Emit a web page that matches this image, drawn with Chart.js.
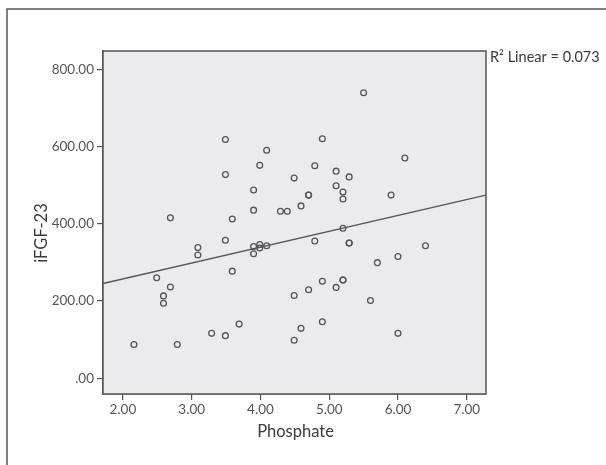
<!DOCTYPE html>
<html>
<head>
<meta charset="utf-8">
<script src="https://cdn.jsdelivr.net/npm/chart.js@4/dist/chart.umd.min.js"></script>
<style>
  body { margin: 0; background: #fff; }
  #wrap { width: 606px; height: 465px; }
</style>
</head>
<body>
<div id="wrap"><canvas id="scatterChart" width="606" height="465"></canvas></div>
<script>
// values
const phosphate = [2.16, 2.49, 2.59, 2.59, 2.69, 2.69, 2.79, 3.09, 3.09, 3.29,
  3.49, 3.49, 3.49, 3.49, 3.59, 3.59, 3.69, 3.90, 3.90, 3.90,
  3.90, 3.99, 3.99, 3.99, 4.09, 4.09, 4.29, 4.39, 4.49, 4.49,
  4.49, 4.59, 4.59, 4.70, 4.70, 4.70, 4.79, 4.79, 4.90, 4.90,
  4.90, 5.10, 5.10, 5.10, 5.20, 5.20, 5.20, 5.20, 5.20, 5.29,
  5.29, 5.29, 5.50, 5.60, 5.70, 5.90, 6.00, 6.00, 6.10, 6.40];
const fgf23 = [87, 260, 213, 194, 236, 415, 87, 338, 319, 116,
  110, 357, 527, 618, 412, 277, 140, 487, 435, 341,
  322, 551, 346, 337, 590, 343, 432, 432, 518, 214,
  98, 446, 129, 474, 474, 229, 550, 355, 620, 251,
  146, 536, 498, 235, 482, 464, 388, 254, 254, 521,
  350, 350, 739, 201, 299, 474, 315, 116, 570, 343];

const xTicks = [2, 3, 4, 5, 6, 7];
const yTicks = [0, 200, 400, 600, 800];
const xRange = [1.71, 7.28];
const yRange = [-41, 847];

// fit line as shown in the picture
const fitIntercept = 174.7;
const fitSlope = 41.1;
const r2Label = 'R\u00B2 Linear = 0.073';

const points = phosphate.map((x, i) => ({ x: x, y: fgf23[i] }));
const fitLine = xRange.map(x => ({ x: x, y: fitIntercept + fitSlope * x }));

const ink = '#555';
const fontFamily = 'Lato, "Open Sans", sans-serif';

//background, frame and titles
const decor = {
  id: 'decor',
  beforeDatasetsDraw(chart) {
    const a = chart.chartArea;
    const ctx = chart.ctx;
    ctx.save();
    ctx.fillStyle = '#ebebed';
    ctx.fillRect(a.left, a.top, a.right - a.left, a.bottom - a.top);
    ctx.restore();
  },
  afterDraw(chart) {
    const a = chart.chartArea;
    const ctx = chart.ctx;
    ctx.save();
    ctx.strokeStyle = ink;
    ctx.lineWidth = 1.5;
    ctx.strokeRect(a.left, a.top, a.right - a.left, a.bottom - a.top);

    // outer frame (left and top)
    ctx.beginPath();
    ctx.moveTo(7, 465);
    ctx.lineTo(7, 9);
    ctx.lineTo(606, 9);
    ctx.stroke();

    ctx.fillStyle = '#3a3a3a';
    ctx.font = '16.5px ' + fontFamily;
    ctx.textAlign = 'center';
    ctx.textBaseline = 'middle';
    ctx.fillText('Phosphate', (a.left + a.right) / 2 + 1, 432);

    ctx.translate(42, 233);
    ctx.rotate(-Math.PI / 2);
    ctx.fillText('iFGF-23', 0, 0);
    ctx.restore();

    ctx.save();
    ctx.fillStyle = '#3a3a3a';
    ctx.font = '14.5px ' + fontFamily;
    ctx.textAlign = 'left';
    ctx.textBaseline = 'middle';
    ctx.fillText(r2Label, a.right + 4, 57);
    ctx.restore();
  }
};

const tickFont = { family: fontFamily, size: 13.5 };

new Chart(document.getElementById('scatterChart'), {
  type: 'scatter',
  data: {
    datasets: [{
      label: 'iFGF-23',
      data: points,
      pointStyle: 'circle',
      pointRadius: 2.9,
      pointBorderWidth: 1.3,
      borderColor: ink,
      backgroundColor: 'rgba(0,0,0,0)'
    }, {
      type: 'line',
      label: 'Linear fit',
      data: fitLine,
      showLine: true,
      pointRadius: 0,
      borderColor: ink,
      borderWidth: 1.3,
      fill: false
    }]
  },
  options: {
    responsive: false,
    animation: false,
    devicePixelRatio: 1,
    layout: {
      autoPadding: false,
      padding: { left: 0, top: 51, right: 120, bottom: 0 }
    },
    plugins: {
      legend: { display: false },
      tooltip: { enabled: false }
    },
    scales: {
      x: {
        type: 'linear',
        min: xRange[0],
        max: xRange[1],
        afterBuildTicks: scale => { scale.ticks = xTicks.map(v => ({ value: v })); },
        afterFit: scale => { scale.height = 71; },
        grid: { drawOnChartArea: false, drawTicks: true, tickLength: 6, color: ink, lineWidth: 1.2 },
        border: { display: true, color: ink, width: 1.5 },
        ticks: {
          padding: 2,
          color: '#555',
          font: tickFont,
          maxRotation: 0,
          callback: v => v.toFixed(2)
        }
      },
      y: {
        type: 'linear',
        min: yRange[0],
        max: yRange[1],
        afterBuildTicks: scale => { scale.ticks = yTicks.map(v => ({ value: v })); },
        afterFit: scale => { scale.width = 103; },
        grid: { drawOnChartArea: false, drawTicks: true, tickLength: 6, color: ink, lineWidth: 1.2 },
        border: { display: true, color: ink, width: 1.5 },
        ticks: {
          padding: 3,
          color: '#555',
          font: tickFont,
          callback: v => (v === 0 ? '.00' : v.toFixed(2))
        }
      }
    }
  },
  plugins: [decor]
});
</script>
</body>
</html>
